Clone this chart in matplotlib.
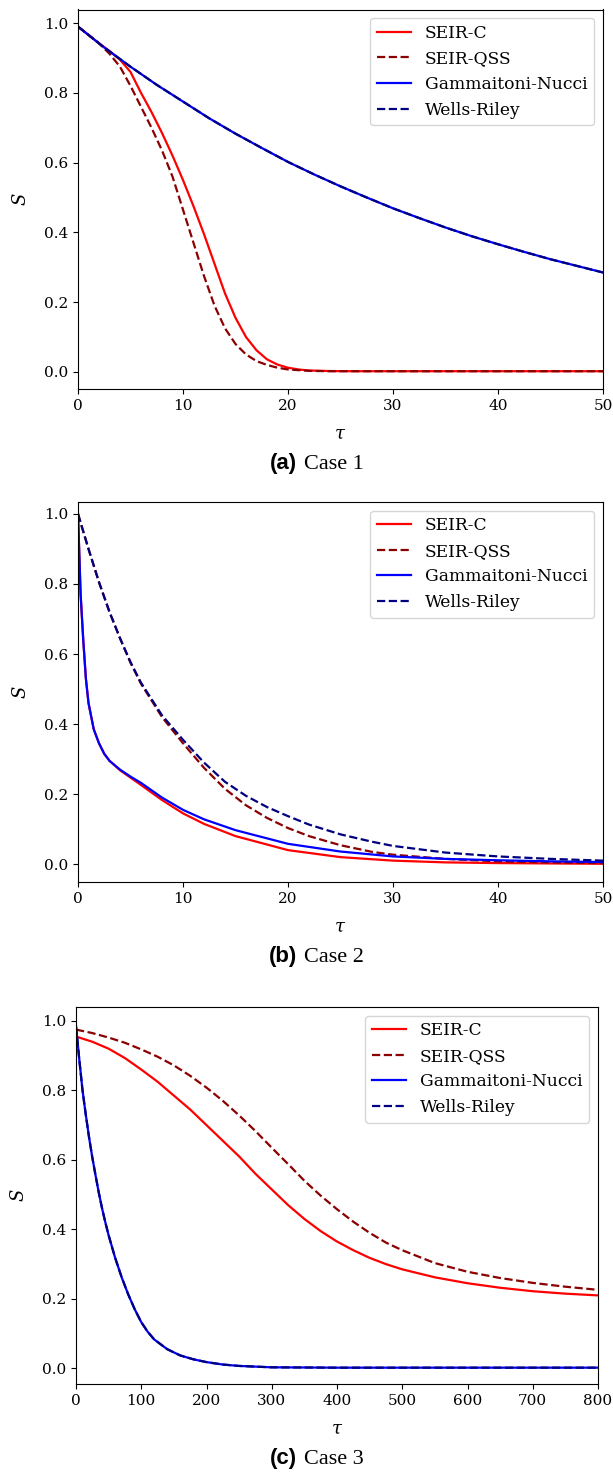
import matplotlib
matplotlib.use("Agg")
import matplotlib.pyplot as plt

plt.rcParams['font.family'] = ['DejaVu Serif']
plt.rcParams['mathtext.fontset'] = 'dejavuserif'

# ---------------- data ----------------
# Case 1
a_seirc_t = [0, 2, 3, 4, 5, 6, 7, 8, 9, 10, 11, 12, 13, 14, 15, 16, 17, 18, 19, 20, 21, 22, 24, 26, 30, 50]
a_seirc_s = [0.99, 0.942, 0.92, 0.895, 0.86, 0.80, 0.745, 0.685, 0.62, 0.55, 0.475, 0.395, 0.31, 0.225,
             0.155, 0.10, 0.062, 0.036, 0.021, 0.012, 0.007, 0.004, 0.0025, 0.002, 0.002, 0.002]
a_qss_t = [0, 2, 3, 4, 5, 6, 7, 8, 9, 10, 11, 12, 13, 14, 15, 16, 17, 18, 19, 20, 22, 24, 50]
a_qss_s = [0.99, 0.942, 0.912, 0.875, 0.82, 0.76, 0.70, 0.635, 0.56, 0.465, 0.37, 0.275, 0.19, 0.125,
           0.08, 0.05, 0.031, 0.02, 0.012, 0.007, 0.003, 0.002, 0.002]
a_gn_t = [0, 2.5, 5, 7.5, 10, 12.5, 15, 17.5, 20, 22.5, 25, 27.5, 30, 32.5, 35, 37.5, 40, 42.5, 45, 47.5, 50]
a_gn_s = [0.99, 0.93, 0.875, 0.823, 0.775, 0.727, 0.683, 0.642, 0.602, 0.566, 0.532, 0.50, 0.469,
          0.441, 0.414, 0.389, 0.366, 0.344, 0.323, 0.304, 0.285]
a_wr_t = [0, 2.5, 5, 7.5, 10, 12.5, 15, 17.5, 20, 22.5, 25, 27.5, 30, 32.5, 35, 37.5, 40, 42.5, 45, 47.5, 50]
a_wr_s = [0.99, 0.93, 0.875, 0.823, 0.775, 0.727, 0.683, 0.642, 0.602, 0.566, 0.532, 0.50, 0.469,
          0.441, 0.414, 0.389, 0.366, 0.344, 0.323, 0.304, 0.285]

# Case 2
b_seirc_t = [0, 0.25, 0.5, 0.75, 1, 1.5, 2, 2.5, 3, 4, 5, 6, 8, 10, 12, 15, 20, 25, 30, 35, 40, 45, 50]
b_seirc_s = [1.0, 0.77, 0.64, 0.53, 0.46, 0.385, 0.345, 0.315, 0.295, 0.268, 0.247, 0.226, 0.183,
             0.145, 0.115, 0.08, 0.04, 0.02, 0.01, 0.005, 0.003, 0.002, 0.001]
b_qss_t = [0, 1, 2, 3, 4, 5, 6, 8, 10, 12, 14, 16, 18, 20, 22, 25, 28, 30, 35, 40, 45, 50]
b_qss_s = [1.0, 0.90, 0.805, 0.72, 0.645, 0.575, 0.515, 0.42, 0.345, 0.275, 0.215, 0.168, 0.132,
           0.103, 0.08, 0.054, 0.035, 0.027, 0.015, 0.008, 0.005, 0.003]
b_gn_t = [0, 0.25, 0.5, 0.75, 1, 1.5, 2, 2.5, 3, 4, 5, 6, 8, 10, 12, 15, 20, 25, 30, 35, 40, 45, 50]
b_gn_s = [1.0, 0.77, 0.64, 0.53, 0.46, 0.385, 0.345, 0.315, 0.295, 0.27, 0.25, 0.232, 0.19,
          0.155, 0.128, 0.097, 0.058, 0.036, 0.022, 0.015, 0.011, 0.008, 0.006]
b_wr_t = [0, 1, 2, 3, 4, 5, 6, 8, 10, 12, 14, 16, 18, 20, 22, 25, 28, 30, 35, 40, 45, 50]
b_wr_s = [1.0, 0.90, 0.805, 0.72, 0.645, 0.577, 0.518, 0.425, 0.355, 0.29, 0.235, 0.195, 0.163,
          0.137, 0.113, 0.085, 0.064, 0.052, 0.033, 0.022, 0.015, 0.01]

# Case 3
c_seirc_t = [0, 25, 50, 75, 100, 125, 150, 175, 200, 225, 250, 275, 300, 325, 350, 375, 400, 425,
             450, 475, 500, 550, 600, 650, 700, 750, 800]
c_seirc_s = [0.955, 0.94, 0.92, 0.893, 0.86, 0.825, 0.785, 0.745, 0.70, 0.655, 0.61, 0.56, 0.515,
             0.47, 0.43, 0.395, 0.365, 0.34, 0.318, 0.30, 0.285, 0.262, 0.245, 0.232, 0.222, 0.215, 0.21]
c_qss_t = [0, 25, 50, 75, 100, 125, 150, 175, 200, 225, 250, 275, 300, 325, 350, 375, 400, 425,
           450, 475, 500, 550, 600, 650, 700, 750, 800]
c_qss_s = [0.975, 0.965, 0.952, 0.937, 0.918, 0.897, 0.872, 0.842, 0.808, 0.77, 0.728, 0.683, 0.635,
           0.588, 0.54, 0.497, 0.458, 0.422, 0.39, 0.362, 0.34, 0.303, 0.278, 0.26, 0.246, 0.235, 0.226]
c_gn_t = [0, 5, 10, 15, 20, 25, 30, 35, 40, 45, 50, 60, 70, 80, 90, 100, 110, 120, 140, 160, 180,
          200, 225, 250, 300, 400, 800]
c_gn_s = [0.985, 0.89, 0.80, 0.73, 0.665, 0.607, 0.555, 0.505, 0.46, 0.42, 0.383, 0.318, 0.262,
          0.213, 0.17, 0.133, 0.105, 0.083, 0.055, 0.037, 0.026, 0.018, 0.011, 0.007, 0.003, 0.002, 0.002]
c_wr_t = [0, 5, 10, 15, 20, 25, 30, 35, 40, 45, 50, 60, 70, 80, 90, 100, 110, 120, 140, 160, 180,
          200, 225, 250, 300, 400, 800]
c_wr_s = [0.985, 0.89, 0.80, 0.73, 0.665, 0.607, 0.555, 0.505, 0.46, 0.42, 0.383, 0.318, 0.262,
          0.213, 0.17, 0.133, 0.105, 0.083, 0.055, 0.037, 0.026, 0.018, 0.011, 0.007, 0.003, 0.002, 0.002]

labels = ['SEIR-C', 'SEIR-QSS', 'Gammaitoni-Nucci', 'Wells-Riley']
captions = [('(a)', 'Case 1'), ('(b)', 'Case 2'), ('(c)', 'Case 3')]
xlims = [(0, 50), (0, 50), (0, 800)]

panels = [
    [(a_seirc_t, a_seirc_s), (a_qss_t, a_qss_s), (a_gn_t, a_gn_s), (a_wr_t, a_wr_s)],
    [(b_seirc_t, b_seirc_s), (b_qss_t, b_qss_s), (b_gn_t, b_gn_s), (b_wr_t, b_wr_s)],
    [(c_seirc_t, c_seirc_s), (c_qss_t, c_qss_s), (c_gn_t, c_gn_s), (c_wr_t, c_wr_s)],
]

# ---------------- layout (pixels) ----------------
W, H = 613, 1472
boxes = [(78, 603, 9.5, 389), (78, 603, 502, 882), (76, 598, 1007, 1384)]
ylims = [(-0.049, 1.039), (-0.051, 1.034), (-0.045, 1.04)]
cap_base = [469, 962, 1464]
styles = [dict(color='red', ls='-'), dict(color='darkred', ls='--'),
          dict(color='blue', ls='-'), dict(color='navy', ls='--')]

fig = plt.figure(figsize=(W / 100, H / 100), dpi=100)
FS = 11

for i, (l, r, t, b) in enumerate(boxes):
    ax = fig.add_axes([l / W, 1 - b / H, (r - l) / W, (b - t) / H])
    for (x, y), lab, st in zip(panels[i], labels, styles):
        ax.plot(x, y, lw=1.6, label=lab, **st)
    ax.set_xlim(*xlims[i])
    ax.set_ylim(*ylims[i])
    ax.set_yticks([0.0, 0.2, 0.4, 0.6, 0.8, 1.0])
    ax.tick_params(labelsize=FS)
    ax.set_xlabel(r'$\tau$', fontsize=13, labelpad=8.5)
    ax.set_ylabel(r'$S$', fontsize=13, labelpad=10)
    ax.legend(loc='upper right', fontsize=12.3)
    p, c = captions[i]
    fig.text(297 / W, 1 - cap_base[i] / H, p, ha='right', va='baseline', fontsize=16,
             fontweight='bold', family='Liberation Sans')
    fig.text(304 / W, 1 - cap_base[i] / H, c, ha='left', va='baseline', fontsize=16,
             family='Liberation Serif')

fig.savefig('out.png', dpi=100)
